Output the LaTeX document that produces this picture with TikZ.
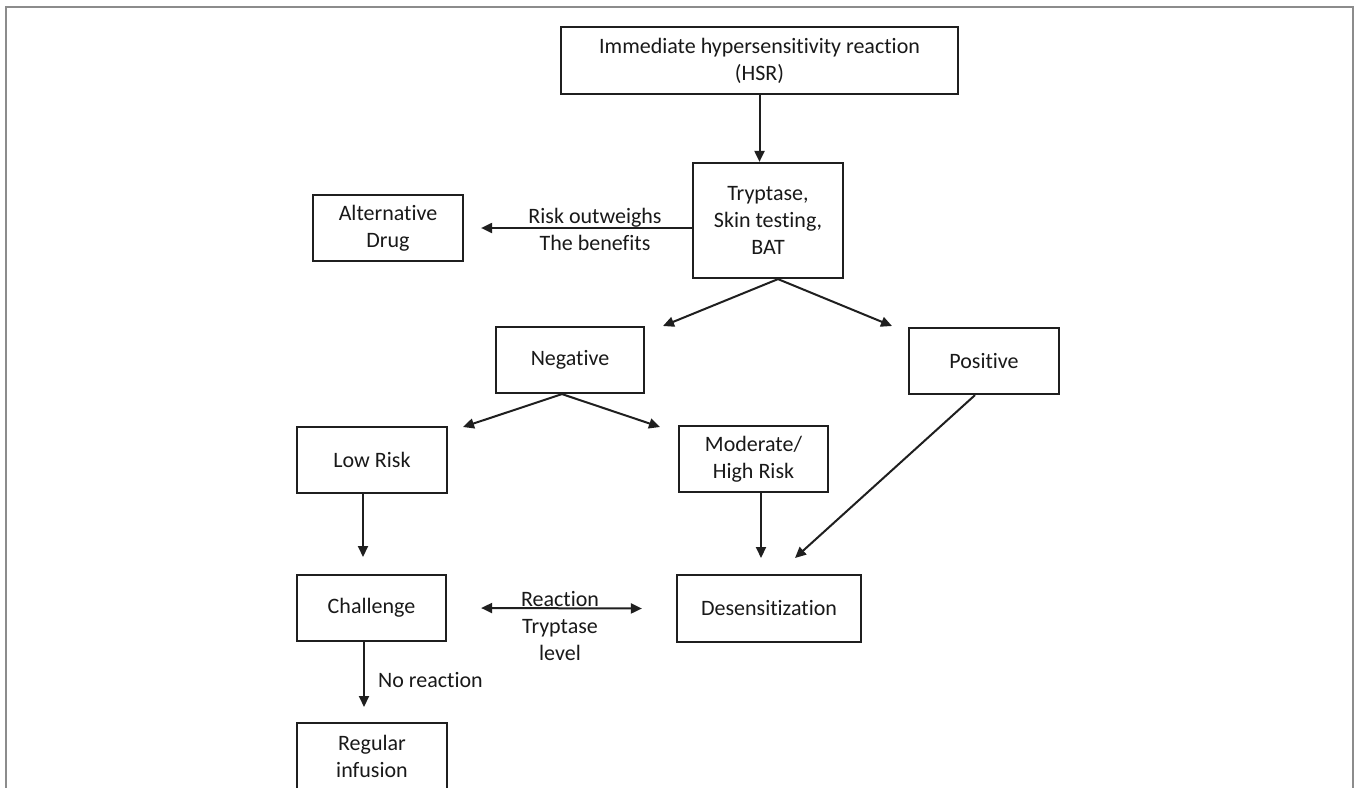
\documentclass[tikz,border=0pt]{standalone}
\usepackage{fontspec}
\setmainfont{Carlito}[Ligatures={NoCommon,NoContextual},Contextuals=NoAlternate]
\usetikzlibrary{arrows.meta}
\begin{document}
\begin{tikzpicture}[x=1pt,y=-1pt,
  box/.style={draw=black!88,line width=2.2pt,rectangle,inner sep=0pt,align=center,font=\fontsize{22}{27}\selectfont,text=black!90},
  arr/.style={line width=2pt,draw=black!88,-{Triangle[length=11pt,width=10pt]}},
  dbl/.style={line width=2pt,draw=black!88,{Triangle[length=11pt,width=10pt]}-{Triangle[length=11pt,width=10pt]}},
  lab/.style={align=center,font=\fontsize{22}{27}\selectfont,text=black!90,inner sep=0pt}]
\useasboundingbox (0,0) rectangle (1356,787);
\fill[white] (0,0) rectangle (1356,787);
\draw[draw=black!45,line width=1.8pt] (6,820) -- (6,7) -- (1353,7) -- (1353,820);

\node[box,minimum width=397pt,minimum height=67pt] (hsr) at (759.5,60.5) {Immediate hypersensitivity reaction\\(HSR)};
\node[box,minimum width=150pt,minimum height=115pt] (tryp) at (768,220.5) {Tryptase,\\Skin testing,\\BAT};
\node[box,minimum width=150pt,minimum height=66pt] (alt) at (388,228) {Alternative\\Drug};
\node[box,minimum width=148pt,minimum height=66pt] (neg) at (570,360) {Negative};
\node[box,minimum width=150pt,minimum height=66pt] (pos) at (984,361) {Positive};
\node[box,minimum width=150pt,minimum height=66pt] (low) at (372,460) {Low Risk};
\node[box,minimum width=149pt,minimum height=66pt] (mod) at (753.5,459) {Moderate/\\High Risk};
\node[box,minimum width=149pt,minimum height=66pt] (chal) at (371.5,608) {Challenge};
\node[box,minimum width=184pt,minimum height=67pt] (des) at (769,608.5) {Desensitization};
\node[box,minimum width=150pt,minimum height=66pt] (reg) at (372,756) {Regular\\infusion};

\coordinate (tn) at (663,326);
\coordinate (tp) at (892,326);
\coordinate (nl) at (463,427);
\coordinate (nm) at (660,427);
\coordinate (lc) at (363,557);
\coordinate (mc) at (761,558);
\coordinate (pc) at (795,558);
\coordinate (rc) at (364,707);

\draw[arr] (hsr.south) -- (hsr.south |- tryp.north);
\draw[arr] (tryp.west |- alt.east) -- ([xshift=17pt]alt.east);
\draw[arr] ([xshift=10pt]tryp.south) -- (tn);
\draw[arr] ([xshift=10pt]tryp.south) -- (tp);
\draw[arr] ([xshift=-8pt]neg.south) -- (nl);
\draw[arr] ([xshift=-8pt]neg.south) -- (nm);
\draw[arr] ([xshift=-9pt]low.south) -- (lc);
\draw[arr] ([xshift=7.5pt]mod.south) -- (mc);
\draw[arr] ([xshift=-9pt]pos.south) -- (pc);
\draw[dbl] ([xshift=34pt]chal.east) -- ([xshift=-34pt]des.west);
\draw[arr] ([xshift=-7.5pt]chal.south) -- (rc);

\node[lab] (l1) at (595,229.5) {Risk outweighs\\The benefits};
\node[lab] (l2) at (560,626) {Reaction\\Tryptase\\level};
\node[lab,anchor=base west] (l3) at (378,687) {No reaction};
\end{tikzpicture}
\end{document}
